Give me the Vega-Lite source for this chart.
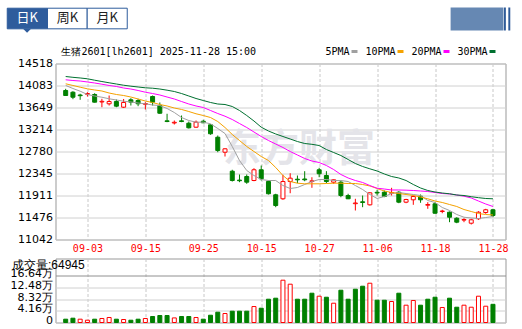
{
"$schema": "https://vega.github.io/schema/vega-lite/v6.json",
"background": "white",
"padding": {"left": 5.5, "top": 6.5, "right": 0, "bottom": 0},
"bounds": "flush",
"spacing": 19,
"config": {"view": {"stroke": "#999999"}, "font": "DejaVu Sans"},
"datasets": {"k": [
{"n":0,"d":"08-29","o":13985,"h":14018,"l":13876,"c":13886,"dir":"d","vdir":"d","v":11800,"5PMA":14084,"10PMA":14117,"20PMA":14196,"30PMA":14261},
{"n":1,"d":"09-01","o":13951,"h":13971,"l":13813,"c":13852,"dir":"d","vdir":"d","v":15400,"5PMA":14024,"10PMA":14084,"20PMA":14182,"30PMA":14245},
{"n":2,"d":"09-02","o":13896,"h":13920,"l":13801,"c":13882,"dir":"d","vdir":"u","v":11800,"5PMA":13971,"10PMA":14050,"20PMA":14172,"30PMA":14232},
{"n":3,"d":"09-03","o":13910,"h":13951,"l":13866,"c":13925,"dir":"u","vdir":"u","v":8200,"5PMA":13906,"10PMA":14018,"20PMA":14153,"30PMA":14216},
{"n":4,"d":"09-04","o":13906,"h":13931,"l":13748,"c":13754,"dir":"d","vdir":"d","v":11800,"5PMA":13876,"10PMA":13995,"20PMA":14133,"30PMA":14188},
{"n":5,"d":"09-05","o":13758,"h":13821,"l":13655,"c":13771,"dir":"u","vdir":"u","v":14300,"5PMA":13852,"10PMA":13975,"20PMA":14109,"30PMA":14162},
{"n":6,"d":"09-08","o":13722,"h":13886,"l":13688,"c":13767,"dir":"u","vdir":"u","v":17900,"5PMA":13821,"10PMA":13935,"20PMA":14084,"30PMA":14137},
{"n":7,"d":"09-09","o":13767,"h":13807,"l":13655,"c":13675,"dir":"d","vdir":"d","v":11800,"5PMA":13797,"10PMA":13906,"20PMA":14064,"30PMA":14113},
{"n":8,"d":"09-10","o":13655,"h":13817,"l":13639,"c":13748,"dir":"u","vdir":"u","v":10700,"5PMA":13773,"10PMA":13886,"20PMA":14034,"30PMA":14089},
{"n":9,"d":"09-11","o":13801,"h":13833,"l":13688,"c":13754,"dir":"d","vdir":"d","v":8200,"5PMA":13758,"10PMA":13856,"20PMA":14014,"30PMA":14070},
{"n":10,"d":"09-12","o":13787,"h":13821,"l":13675,"c":13722,"dir":"d","vdir":"d","v":11800,"5PMA":13738,"10PMA":13817,"20PMA":13985,"30PMA":14054},
{"n":11,"d":"09-15","o":13712,"h":13754,"l":13610,"c":13728,"dir":"u","vdir":"u","v":14300,"5PMA":13722,"10PMA":13777,"20PMA":13951,"30PMA":14038},
{"n":12,"d":"09-16","o":13866,"h":13886,"l":13688,"c":13754,"dir":"d","vdir":"d","v":21400,"5PMA":13698,"10PMA":13748,"20PMA":13925,"30PMA":14030},
{"n":13,"d":"09-17","o":13688,"h":13748,"l":13525,"c":13536,"dir":"d","vdir":"d","v":25000,"5PMA":13688,"10PMA":13708,"20PMA":13896,"30PMA":14014},
{"n":14,"d":"09-18","o":13386,"h":13525,"l":13359,"c":13372,"dir":"d","vdir":"d","v":25000,"5PMA":13629,"10PMA":13679,"20PMA":13856,"30PMA":13991},
{"n":15,"d":"09-19","o":13343,"h":13392,"l":13313,"c":13357,"dir":"u","vdir":"u","v":16400,"5PMA":13550,"10PMA":13639,"20PMA":13817,"30PMA":13965},
{"n":16,"d":"09-22","o":13386,"h":13491,"l":13359,"c":13372,"dir":"d","vdir":"d","v":21400,"5PMA":13451,"10PMA":13610,"20PMA":13767,"30PMA":13925},
{"n":17,"d":"09-23","o":13339,"h":13372,"l":13234,"c":13248,"dir":"d","vdir":"d","v":21400,"5PMA":13392,"10PMA":13570,"20PMA":13718,"30PMA":13876},
{"n":18,"d":"09-24","o":13260,"h":13392,"l":13248,"c":13359,"dir":"u","vdir":"u","v":17900,"5PMA":13359,"10PMA":13525,"20PMA":13679,"30PMA":13827},
{"n":19,"d":"09-25","o":13378,"h":13406,"l":13340,"c":13347,"dir":"d","vdir":"d","v":11800,"5PMA":13359,"10PMA":13491,"20PMA":13649,"30PMA":13787},
{"n":20,"d":"09-26","o":13307,"h":13313,"l":13110,"c":13130,"dir":"d","vdir":"d","v":26000,"5PMA":13327,"10PMA":13451,"20PMA":13590,"30PMA":13748},
{"n":21,"d":"09-29","o":13062,"h":13096,"l":12766,"c":12800,"dir":"d","vdir":"d","v":36800,"5PMA":13234,"10PMA":13372,"20PMA":13530,"30PMA":13718},
{"n":22,"d":"09-30","o":12766,"h":12845,"l":12681,"c":12833,"dir":"u","vdir":"u","v":32100,"5PMA":13135,"10PMA":13254,"20PMA":13477,"30PMA":13708},
{"n":23,"d":"10-09","o":12391,"h":12419,"l":12187,"c":12207,"dir":"d","vdir":"d","v":40400,"5PMA":12879,"10PMA":13116,"20PMA":13412,"30PMA":13669},
{"n":24,"d":"10-10","o":12215,"h":12326,"l":12174,"c":12203,"dir":"d","vdir":"d","v":40400,"5PMA":12602,"10PMA":12997,"20PMA":13333,"30PMA":13590},
{"n":25,"d":"10-13","o":12286,"h":12326,"l":12142,"c":12174,"dir":"d","vdir":"d","v":40400,"5PMA":12405,"10PMA":12879,"20PMA":13254,"30PMA":13491},
{"n":26,"d":"10-14","o":12207,"h":12450,"l":12193,"c":12419,"dir":"u","vdir":"u","v":57000,"5PMA":12306,"10PMA":12780,"20PMA":13165,"30PMA":13382},
{"n":27,"d":"10-15","o":12419,"h":12503,"l":12207,"c":12241,"dir":"d","vdir":"d","v":51100,"5PMA":12227,"10PMA":12681,"20PMA":13076,"30PMA":13260},
{"n":28,"d":"10-16","o":12187,"h":12207,"l":11931,"c":11945,"dir":"d","vdir":"d","v":83200,"5PMA":12207,"10PMA":12602,"20PMA":12997,"30PMA":13185},
{"n":29,"d":"10-17","o":11925,"h":11945,"l":11680,"c":11713,"dir":"d","vdir":"d","v":86800,"5PMA":12207,"10PMA":12464,"20PMA":12928,"30PMA":13126},
{"n":30,"d":"10-20","o":11846,"h":12320,"l":11826,"c":12187,"dir":"u","vdir":"u","v":151100,"5PMA":12108,"10PMA":12306,"20PMA":12859,"30PMA":13076},
{"n":31,"d":"10-21","o":12187,"h":12351,"l":11956,"c":12253,"dir":"u","vdir":"u","v":136800,"5PMA":12049,"10PMA":12187,"20PMA":12780,"30PMA":13027},
{"n":32,"d":"10-22","o":12233,"h":12306,"l":12154,"c":12221,"dir":"d","vdir":"d","v":83200,"5PMA":12069,"10PMA":12154,"20PMA":12711,"30PMA":12977},
{"n":33,"d":"10-23","o":12237,"h":12391,"l":12193,"c":12221,"dir":"d","vdir":"d","v":83200,"5PMA":12128,"10PMA":12142,"20PMA":12642,"30PMA":12938},
{"n":34,"d":"10-24","o":12187,"h":12272,"l":12063,"c":12201,"dir":"u","vdir":"d","v":104600,"5PMA":12187,"10PMA":12142,"20PMA":12592,"30PMA":12922},
{"n":35,"d":"10-27","o":12419,"h":12458,"l":12272,"c":12340,"dir":"d","vdir":"u","v":93900,"5PMA":12227,"10PMA":12142,"20PMA":12563,"30PMA":12898},
{"n":36,"d":"10-28","o":12306,"h":12391,"l":12154,"c":12187,"dir":"d","vdir":"d","v":90300,"5PMA":12227,"10PMA":12148,"20PMA":12503,"30PMA":12819},
{"n":37,"d":"10-29","o":12174,"h":12227,"l":12142,"c":12221,"dir":"u","vdir":"u","v":68900,"5PMA":12207,"10PMA":12154,"20PMA":12424,"30PMA":12760},
{"n":38,"d":"10-30","o":12174,"h":12207,"l":11877,"c":11911,"dir":"d","vdir":"d","v":115300,"5PMA":12207,"10PMA":12154,"20PMA":12326,"30PMA":12701},
{"n":39,"d":"10-31","o":11911,"h":11945,"l":11840,"c":11846,"dir":"d","vdir":"d","v":83200,"5PMA":12187,"10PMA":12148,"20PMA":12257,"30PMA":12622},
{"n":40,"d":"11-03","o":11749,"h":11846,"l":11615,"c":11763,"dir":"u","vdir":"d","v":118900,"5PMA":12108,"10PMA":12148,"20PMA":12207,"30PMA":12543},
{"n":41,"d":"11-04","o":11787,"h":11911,"l":11680,"c":11773,"dir":"d","vdir":"d","v":129600,"5PMA":12029,"10PMA":12128,"20PMA":12168,"30PMA":12484},
{"n":42,"d":"11-05","o":11727,"h":11976,"l":11713,"c":11964,"dir":"u","vdir":"u","v":140300,"5PMA":11931,"10PMA":12099,"20PMA":12108,"30PMA":12438},
{"n":43,"d":"11-06","o":11974,"h":12024,"l":11911,"c":11960,"dir":"d","vdir":"d","v":79600,"5PMA":11852,"10PMA":12049,"20PMA":12055,"30PMA":12395},
{"n":44,"d":"11-07","o":11976,"h":12010,"l":11877,"c":11891,"dir":"d","vdir":"d","v":79600,"5PMA":11891,"10PMA":12000,"20PMA":12039,"30PMA":12336},
{"n":45,"d":"11-10","o":11956,"h":12063,"l":11911,"c":11970,"dir":"u","vdir":"u","v":75000,"5PMA":11950,"10PMA":11970,"20PMA":12020,"30PMA":12286},
{"n":46,"d":"11-11","o":11976,"h":11996,"l":11759,"c":11779,"dir":"d","vdir":"d","v":104600,"5PMA":11970,"10PMA":11950,"20PMA":12020,"30PMA":12257},
{"n":47,"d":"11-12","o":11779,"h":11846,"l":11759,"c":11832,"dir":"u","vdir":"u","v":61800,"5PMA":11950,"10PMA":11931,"20PMA":12016,"30PMA":12207},
{"n":48,"d":"11-13","o":11826,"h":11911,"l":11727,"c":11891,"dir":"u","vdir":"u","v":78600,"5PMA":11931,"10PMA":11911,"20PMA":12010,"30PMA":12128},
{"n":49,"d":"11-14","o":11897,"h":11931,"l":11767,"c":11826,"dir":"d","vdir":"d","v":61800,"5PMA":11911,"10PMA":11881,"20PMA":12000,"30PMA":12059},
{"n":50,"d":"11-17","o":11719,"h":11779,"l":11648,"c":11733,"dir":"u","vdir":"d","v":83200,"5PMA":11812,"10PMA":11846,"20PMA":11990,"30PMA":12010},
{"n":51,"d":"11-18","o":11747,"h":11779,"l":11550,"c":11561,"dir":"d","vdir":"d","v":90300,"5PMA":11773,"10PMA":11802,"20PMA":11970,"30PMA":11980},
{"n":52,"d":"11-19","o":11595,"h":11629,"l":11561,"c":11605,"dir":"u","vdir":"u","v":53600,"5PMA":11674,"10PMA":11773,"20PMA":11950,"30PMA":11960},
{"n":53,"d":"11-20","o":11581,"h":11595,"l":11384,"c":11482,"dir":"d","vdir":"d","v":86800,"5PMA":11615,"10PMA":11733,"20PMA":11941,"30PMA":11945},
{"n":54,"d":"11-21","o":11462,"h":11482,"l":11364,"c":11384,"dir":"d","vdir":"d","v":54600,"5PMA":11536,"10PMA":11694,"20PMA":11921,"30PMA":11921},
{"n":55,"d":"11-24","o":11425,"h":11462,"l":11384,"c":11437,"dir":"u","vdir":"u","v":61800,"5PMA":11482,"10PMA":11634,"20PMA":11897,"30PMA":11911},
{"n":56,"d":"11-25","o":11364,"h":11451,"l":11338,"c":11431,"dir":"u","vdir":"u","v":54600,"5PMA":11467,"10PMA":11595,"20PMA":11862,"30PMA":11887},
{"n":57,"d":"11-26","o":11451,"h":11601,"l":11431,"c":11581,"dir":"u","vdir":"u","v":93900,"5PMA":11457,"10PMA":11555,"20PMA":11802,"30PMA":11868},
{"n":58,"d":"11-27","o":11575,"h":11648,"l":11550,"c":11629,"dir":"u","vdir":"u","v":58200,"5PMA":11476,"10PMA":11536,"20PMA":11743,"30PMA":11852},
{"n":59,"d":"11-28","o":11629,"h":11648,"l":11482,"c":11516,"dir":"d","vdir":"d","v":64945,"5PMA":11496,"10PMA":11526,"20PMA":11694,"30PMA":11846}
]},
"vconcat": [
{
"width": 450, "height": 176,
"layer": [
{"data": {"values": [{"t": "东方财富"}]},
 "mark": {"type": "text", "font": "Noto Sans CJK SC", "fontSize": 38, "fontWeight": "bold", "color": "#e4e4e9", "align": "center", "baseline": "middle", "clip": false},
 "encoding": {"x": {"datum": 32.2, "type": "quantitative"}, "y": {"datum": 12800, "type": "quantitative"}, "text": {"field": "t"}}},
{"data": {"name": "k"},
 "mark": {"type": "rule", "strokeWidth": 1},
 "encoding": {
  "x": {"field": "n", "type": "quantitative", "scale": {"domain": [-0.716, 60.04], "nice": false, "zero": false},
        "axis": {"values": [3,11,19,27,35,43,51,59], "tickCount": 20, "labelExpr": "['09-03','09-15','09-25','10-15','10-27','11-06','11-18','11-28'][(datum.value-3)/8]", "grid": true, "gridDash": [3,2], "gridColor": "#c8c8c8", "ticks": false, "domain": false, "labelColor": "#ff0000", "labelFont": "DejaVu Sans Mono", "labelFontSize": 10, "labelPadding": 4, "title": null, "labelFlush": false, "labelOverlap": false}},
  "y": {"field": "l", "type": "quantitative", "scale": {"domain": [11042, 14518], "nice": false, "zero": false},
        "axis": {"values": [11042,11476,11911,12345,12780,13214,13649,14083,14518], "tickCount": 20, "format": "d", "grid": true, "gridColor": "#d0d0d0", "ticks": false, "domain": false, "labelFont": "DejaVu Sans", "labelFontSize": 11, "labelColor": "#000000", "labelPadding": 3, "title": null, "labelFlush": false, "labelOverlap": false}},
  "y2": {"field": "h"},
  "stroke": {"field": "dir", "type": "nominal", "scale": {"domain": ["u","d"], "range": ["#ff0000","#008000"]}, "legend": null}
 }},
{"data": {"name": "k"},
 "mark": {"type": "bar", "size": 4, "strokeWidth": 1},
 "encoding": {
  "x": {"field": "n", "type": "quantitative"},
  "y": {"field": "o", "type": "quantitative"},
  "y2": {"field": "c"},
  "fill": {"field": "dir", "type": "nominal", "scale": {"domain": ["u","d"], "range": ["#ffffff","#008000"]}, "legend": null},
  "stroke": {"field": "dir", "type": "nominal", "legend": null}
 }},
{"data": {"name": "k"},
 "transform": [{"fold": ["5PMA","10PMA","20PMA","30PMA"], "as": ["ma","val"]}],
 "mark": {"type": "line", "strokeWidth": 1},
 "encoding": {
  "x": {"field": "n", "type": "quantitative"},
  "y": {"field": "val", "type": "quantitative"},
  "color": {"field": "ma", "type": "nominal", "scale": {"domain": ["5PMA","10PMA","20PMA","30PMA"], "range": ["#a0a0a0","#f5a200","#ff00ff","#007030"]},
   "legend": {"orient": "none", "legendX": 294, "legendY": -17, "direction": "horizontal", "title": null, "symbolType": "stroke", "symbolSize": 36, "symbolStrokeWidth": 3, "labelAlign": "right", "labelOffset": -10, "labelFont": "DejaVu Sans Mono", "labelFontSize": 10, "labelColor": "#000000", "columnPadding": 1, "padding": 0}}
 }},
{"data": {"values": [{"t": "生猪2601[lh2601] 2025-11-28 15:00"}]},
 "mark": {"type": "text", "font": "DejaVu Sans Mono", "fontSize": 10, "color": "#000000", "align": "left", "baseline": "middle", "clip": false},
 "encoding": {"x": {"datum": -0.58, "type": "quantitative"}, "y": {"datum": 14745, "type": "quantitative"}, "text": {"field": "t"}}},
{"data": {"values": [{}]},
 "mark": {"type": "rect", "fill": "#2e5c9c", "stroke": "#2e5c9c", "strokeWidth": 1, "clip": false},
 "encoding": {"x": {"datum": -8.07, "type": "quantitative"}, "x2": {"datum": -2.51}, "y": {"datum": 15610, "type": "quantitative"}, "y2": {"datum": 15203}}},
{"data": {"values": [{}]},
 "mark": {"type": "rect", "fill": "#ffffff", "stroke": "#2e5c9c", "strokeWidth": 1, "clip": false},
 "encoding": {"x": {"datum": -2.51, "type": "quantitative"}, "x2": {"datum": 2.97}, "y": {"datum": 15610, "type": "quantitative"}, "y2": {"datum": 15203}}},
{"data": {"values": [{}]},
 "mark": {"type": "rect", "fill": "#ffffff", "stroke": "#2e5c9c", "strokeWidth": 1, "clip": false},
 "encoding": {"x": {"datum": 2.97, "type": "quantitative"}, "x2": {"datum": 8.5}, "y": {"datum": 15610, "type": "quantitative"}, "y2": {"datum": 15203}}},
{"data": {"values": [{"t": "日K"}]},
 "mark": {"type": "text", "font": "Noto Sans CJK SC", "fontSize": 13, "color": "#ffffff", "align": "center", "baseline": "middle", "clip": false},
 "encoding": {"x": {"datum": -5.33, "type": "quantitative"}, "y": {"datum": 15417, "type": "quantitative"}, "text": {"field": "t"}}},
{"data": {"values": [{"t": "周K"}]},
 "mark": {"type": "text", "font": "Noto Sans CJK SC", "fontSize": 13, "color": "#222222", "align": "center", "baseline": "middle", "clip": false},
 "encoding": {"x": {"datum": 0.23, "type": "quantitative"}, "y": {"datum": 15417, "type": "quantitative"}, "text": {"field": "t"}}},
{"data": {"values": [{"t": "月K"}]},
 "mark": {"type": "text", "font": "Noto Sans CJK SC", "fontSize": 13, "color": "#222222", "align": "center", "baseline": "middle", "clip": false},
 "encoding": {"x": {"datum": 5.74, "type": "quantitative"}, "y": {"datum": 15417, "type": "quantitative"}, "text": {"field": "t"}}},
{"data": {"values": [{}]},
 "mark": {"type": "point", "shape": "M-1,-0.5L1,-0.5L0,0.5Z", "size": 64, "filled": true, "fill": "#2e5c9c", "opacity": 1, "clip": false},
 "encoding": {"x": {"datum": -5.33, "type": "quantitative"}, "y": {"datum": 15164, "type": "quantitative"}}},
{"data": {"values": [{}]},
 "mark": {"type": "rect", "fill": "#6688b3", "clip": false},
 "encoding": {"x": {"datum": 53.15, "type": "quantitative"}, "x2": {"datum": 60.44}, "y": {"datum": 15624, "type": "quantitative"}, "y2": {"datum": 15170}}},
{"data": {"values": [{}]},
 "mark": {"type": "rect", "fill": "#2e5a98", "clip": false},
 "encoding": {"x": {"datum": 60.51, "type": "quantitative"}, "x2": {"datum": 60.78}, "y": {"datum": 15624, "type": "quantitative"}, "y2": {"datum": 15170}}},
{"data": {"values": [{}]},
 "mark": {"type": "rect", "fill": "#2e5a98", "clip": false},
 "encoding": {"x": {"datum": 61.12, "type": "quantitative"}, "x2": {"datum": 61.39}, "y": {"datum": 15624, "type": "quantitative"}, "y2": {"datum": 15170}}}
]
},
{
"width": 450, "height": 64,
"title": {"text": "成交量:64945", "anchor": "start", "offset": -13, "font": "Liberation Sans", "fontSize": 12, "fontWeight": "normal", "color": "#000000", "dx": 2},
"data": {"name": "k"},
"mark": {"type": "bar", "size": 4, "strokeWidth": 1},
"encoding": {
 "x": {"field": "n", "type": "quantitative", "scale": {"domain": [-0.716, 60.04], "nice": false, "zero": false},
       "axis": {"values": [3,11,19,27,35,43,51,59], "tickCount": 20, "grid": true, "gridDash": [3,2], "gridColor": "#c8c8c8", "labels": false, "ticks": false, "domain": false, "title": null}},
 "y": {"field": "v", "type": "quantitative", "scale": {"domain": [0, 228600], "nice": false},
       "axis": {"values": [0,41600,83200,124800,166400], "tickCount": 20, "labelExpr": "datum.value == 0 ? '0' : format(datum.value/10000, '.2f') + '万'", "grid": true, "gridColor": {"condition": {"test": "datum.value == 166400", "value": "#909090"}, "value": "#d0d0d0"}, "ticks": false, "domain": false, "labelFont": "DejaVu Sans", "labelFontSize": 11, "labelColor": "#000000", "labelPadding": 3, "labelBaseline": "middle", "labelOffset": -2, "title": null, "labelFlush": false, "labelOverlap": false}},
 "fill": {"field": "vdir", "type": "nominal", "scale": {"domain": ["u","d"], "range": ["#ffffff","#008000"]}, "legend": null},
 "stroke": {"field": "vdir", "type": "nominal", "scale": {"domain": ["u","d"], "range": ["#ff0000","#008000"]}, "legend": null}
}
}
]
}
